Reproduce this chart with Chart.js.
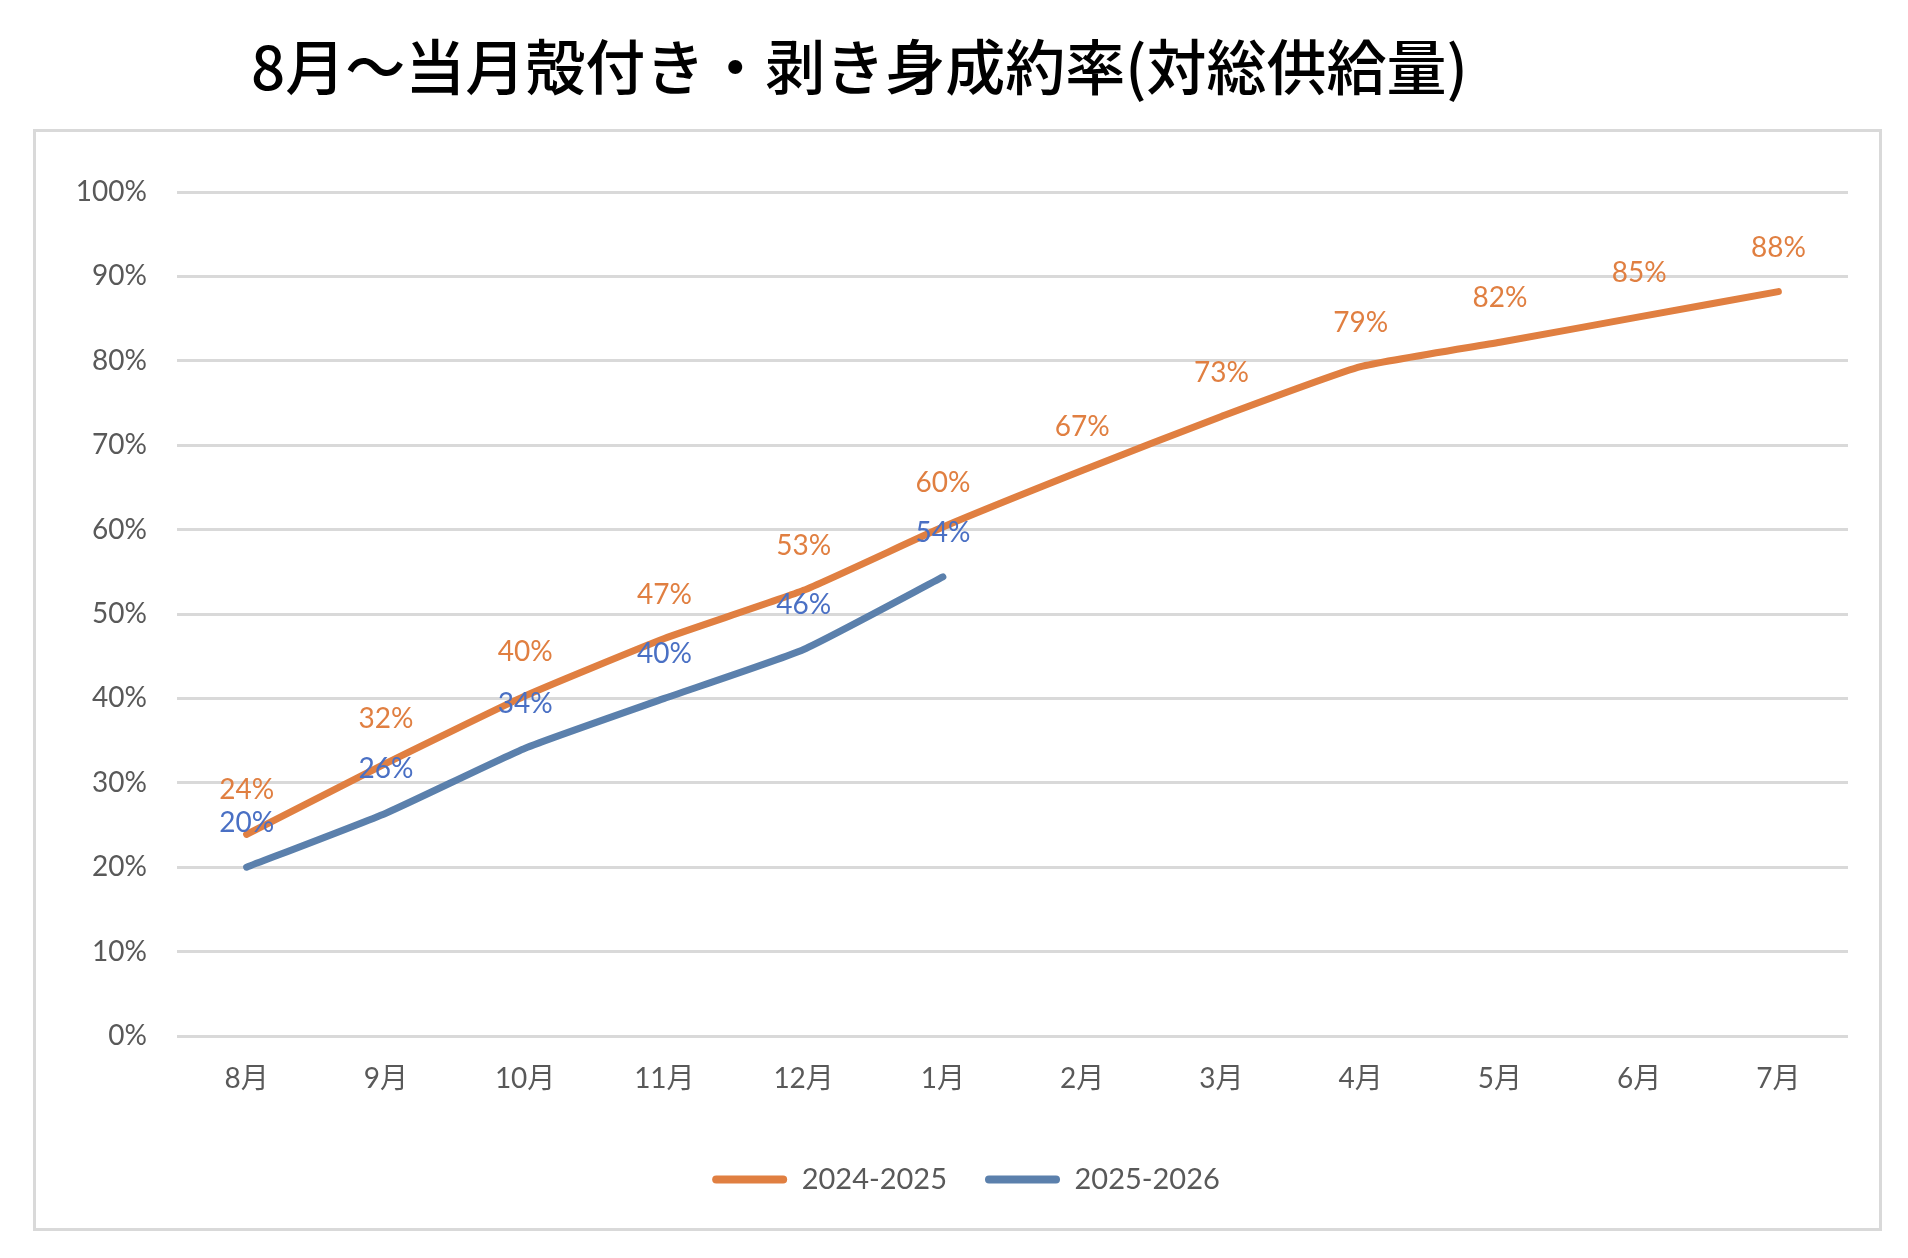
<!DOCTYPE html>
<html>
<head>
<meta charset="utf-8">
<script src="https://cdn.jsdelivr.net/npm/chart.js@4.4.1/dist/chart.umd.min.js"></script>
<style>
  body { margin: 0; background: #fff; }
  #title {
    position: absolute; left: 251px; top: 32px;
    font-family: "Noto Sans CJK JP", sans-serif; font-weight: 500;
    font-size: 60px; line-height: 64px; color: #000; white-space: nowrap;
  }
  #box {
    position: absolute; left: 33px; top: 129px; width: 1849px; height: 1102px;
    box-sizing: border-box; border: 3px solid #d9d9d9;
  }
</style>
</head>
<body>
<div id="title">8月～当月殻付き・剥き身成約率(対総供給量)</div>
<div id="box"><canvas id="myChart"></canvas></div>
<script>
// months on the x axis
let months = ["8月", "9月", "10月", "11月", "12月", "1月", "2月", "3月", "4月", "5月", "6月", "7月"];
// contract rate, percent
let season2024 = [23.9, 32.3, 40.3, 47.1, 52.8, 60.3, 67.0, 73.4, 79.3, 82.2, 85.2, 88.2];
let season2025 = [20.0, 26.4, 34.1, 40.0, 45.8, 54.4, null, null, null, null, null, null];

let font = "Lato, 'Noto Sans CJK JP', sans-serif";

// draws the % value above each point, like excel data labels
let pointLabels = {
  id: "pointLabels",
  afterDatasetsDraw: function (chart) {
    let ctx = chart.ctx;
    chart.data.datasets.forEach(function (ds, i) {
      let meta = chart.getDatasetMeta(i);
      ctx.save();
      ctx.font = "28px " + font;
      ctx.fillStyle = ds.labelColor;
      ctx.textAlign = "center";
      ctx.textBaseline = "middle";
      meta.data.forEach(function (pt, j) {
        if (ds.data[j] == null) return;
        ctx.fillText(Math.round(ds.data[j]) + "%", pt.x, pt.y - 44);
      });
      ctx.restore();
    });
  }
};

// legend sits a bit right of centre in the original
let legendShift = {
  id: "legendShift",
  afterLayout: function (chart) {
    chart.legend.left += 24;
    chart.legend.right += 24;
  }
};

let ctx = document.getElementById("myChart");
let chart1 = new Chart(ctx, {
  type: "line",
  data: {
    labels: months,
    datasets: [{
      label: "2024-2025",
      data: season2024,
      borderColor: "#E07F41",
      backgroundColor: "#E07F41",
      labelColor: "#E07F41",
      borderWidth: 7,
      borderCapStyle: "round",
      borderJoinStyle: "round",
      pointRadius: 0,
      tension: 0.15
    }, {
      label: "2025-2026",
      data: season2025,
      borderColor: "#5B80AC",
      backgroundColor: "#5B80AC",
      labelColor: "#4A70C4",
      borderWidth: 7,
      borderCapStyle: "round",
      borderJoinStyle: "round",
      pointRadius: 0,
      tension: 0.15
    }]
  },
  options: {
    responsive: true,
    maintainAspectRatio: false,
    animation: false,
    layout: { padding: { left: 0, right: 31, top: 60, bottom: 24 } },
    plugins: {
      tooltip: { enabled: false },
      legend: {
        position: "bottom",
        labels: {
          color: "#595959",
          font: { family: font, size: 29 },
          boxWidth: 75,
          boxHeight: 8,
          padding: 38,
          generateLabels: function (chart) {
            let items = Chart.defaults.plugins.legend.labels.generateLabels(chart);
            items.forEach(function (it) {
              it.lineWidth = 0;
              it.borderRadius = 4;
            });
            return items;
          }
        }
      }
    },
    scales: {
      x: {
        offset: true,
        grid: { display: false, drawTicks: false },
        border: { display: false },
        ticks: { color: "#595959", font: { family: font, size: 28 }, padding: 26 },
        afterFit: function (scale) { scale.height = 91; }
      },
      y: {
        min: 0,
        max: 100,
        grid: { color: "#d9d9d9", lineWidth: 3, drawTicks: false },
        border: { display: false },
        ticks: {
          stepSize: 10,
          color: "#595959",
          font: { family: font, size: 28 },
          padding: 30,
          callback: function (v) { return v + "%"; }
        },
        afterFit: function (scale) { scale.width = 141; }
      }
    }
  },
  plugins: [pointLabels, legendShift]
});
</script>
</body>
</html>
